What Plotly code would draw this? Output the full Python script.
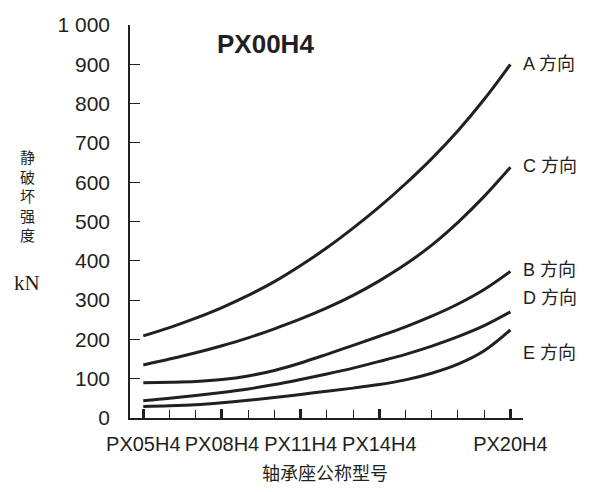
import plotly.graph_objects as go

# ---- data ----
positions = list(range(15))
tick_positions = [0, 3, 6, 9, 14]
tick_labels = ["PX05H4", "PX08H4", "PX11H4", "PX14H4", "PX20H4"]

series_names = ["A 方向", "C 方向", "B 方向", "D 方向", "E 方向"]
a_vals = [209, 230, 254, 281, 312, 347, 388, 433, 483, 537, 596, 660, 731, 811, 900]
c_vals = [135, 150, 166, 184, 204, 227, 252, 280, 312, 349, 391, 440, 498, 564, 638]
b_vals = [90, 91, 93, 98, 107, 121, 140, 162, 185, 208, 232, 259, 290, 327, 373]
d_vals = [44, 50, 57, 65, 74, 85, 98, 112, 127, 144, 162, 183, 207, 235, 270]
e_vals = [29, 31, 34, 39, 45, 52, 60, 68, 76, 85, 97, 114, 137, 171, 224]
label_y = [900, 640, 377, 305, 165]

y_ticks = [0, 100, 200, 300, 400, 500, 600, 700, 800, 900, 1000]
y_ticktext = ["0", "100", "200", "300", "400", "500", "600", "700", "800", "900", "1 000"]

y_title_chars = ["静", "破", "坏", "强", "度"]
y_unit = "kN"
x_title = "轴承座公称型号"
chart_title = "PX00H4"

INK = "#231f20"
SANS = "Liberation Sans, Arial, sans-serif"

W, H = 592, 492
OFF = 8  # page body margin
# plot area in page pixels: left 130, right 523, top 25, bottom 418
L = 130 - OFF
T = 25 - OFF
R = W - (523 - OFF)
B = H - (418 - OFF)
PW, PH = W - L - R, H - T - B


def px_x(x):
    return (x - OFF - L) / PW


def px_y(y):
    return (H - B - (y - OFF)) / PH


fig = go.Figure()
for name, vals in zip(series_names, [a_vals, c_vals, b_vals, d_vals, e_vals]):
    fig.add_trace(go.Scatter(
        x=positions, y=vals, mode="lines", name=name,
        line=dict(color=INK, width=3, shape="spline", smoothing=1.0),
        showlegend=False, hoverinfo="skip",
    ))

# right-side series labels
for name, yv in zip(series_names, label_y):
    fig.add_annotation(
        x=positions[-1], y=yv, xref="x", yref="y", text=name,
        showarrow=False, xanchor="left", yanchor="middle", xshift=11,
        font=dict(family="Liberation Sans, Noto Sans CJK SC, sans-serif", size=18, color=INK),
    )

# chart title
fig.add_annotation(
    x=px_x(265), y=px_y(44), xref="paper", yref="paper", text="<b>" + chart_title + "</b>",
    showarrow=False, xanchor="center", yanchor="middle",
    font=dict(family=SANS, size=26, color=INK),
)

# vertical y title
fig.add_annotation(
    x=px_x(27), y=px_y(196), xref="paper", yref="paper", text="<br>".join(y_title_chars),
    showarrow=False, xanchor="center", yanchor="middle",
    font=dict(family="Noto Sans CJK SC, sans-serif", size=15, color=INK),
)
fig.add_annotation(
    x=px_x(27), y=px_y(283), xref="paper", yref="paper", text=y_unit,
    showarrow=False, xanchor="center", yanchor="middle",
    font=dict(family="Liberation Serif, Times New Roman, serif", size=21, color=INK),
)

# x title
fig.add_annotation(
    x=px_x(325), y=px_y(472), xref="paper", yref="paper", text=x_title,
    showarrow=False, xanchor="center", yanchor="middle",
    font=dict(family="Noto Sans CJK SC, sans-serif", size=18, color=INK),
)

fig.update_layout(
    width=W, height=H,
    margin=dict(l=L, r=R, t=T, b=B, autoexpand=False),
    paper_bgcolor="white", plot_bgcolor="white",
    xaxis=dict(
        range=[-0.507, 14.48], showgrid=False, zeroline=False, automargin=False,
        showline=True, linecolor=INK, linewidth=1.5,
        tickmode="array", tickvals=tick_positions, ticktext=tick_labels, tickangle=0,
        ticks="inside", ticklen=9, tickwidth=2.5, tickcolor=INK,
        minor=dict(ticks="inside", ticklen=8, tickwidth=1, tickcolor=INK, tick0=0, dtick=1, showgrid=False),
        tickfont=dict(family=SANS, size=20, color=INK),
        ticklabelstandoff=7,
    ),
    yaxis=dict(
        range=[0, 1000], showgrid=False, zeroline=False, automargin=False,
        showline=True, linecolor=INK, linewidth=1.5,
        tickmode="array", tickvals=y_ticks, ticktext=y_ticktext,
        ticks="inside", ticklen=10, tickwidth=1.2, tickcolor=INK,
        tickfont=dict(family=SANS, size=21, color=INK),
        ticklabelstandoff=14,
    ),
)

fig.write_html("out.html")
